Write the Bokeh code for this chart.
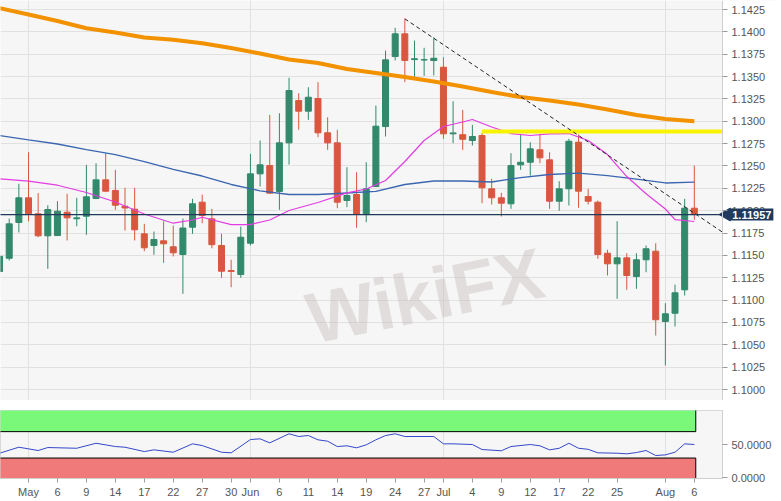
import math
import pandas as pd
from bokeh.plotting import figure
from bokeh.models import (ColumnDataSource, FixedTicker, NumeralTickFormatter,
                          Range1d, Label, LinearAxis, BoxAnnotation)
from bokeh.layouts import column
from bokeh.embed import file_html
from bokeh.resources import INLINE

# ---------------- data ----------------
dates = [d.strftime("%Y-%m-%d") for d in pd.bdate_range("2019-04-26", "2019-08-06")]

opens = [1.1132, 1.11468, 1.11868, 1.12144, 1.11965, 1.11719, 1.11722, 1.11983, 1.1191, 1.11938,
         1.12136, 1.12345, 1.12226, 1.1205, 1.12017, 1.11741, 1.11611, 1.11663, 1.11596, 1.1151,
         1.11815, 1.12095, 1.11909, 1.11611, 1.1133, 1.11286, 1.11636, 1.12412, 1.12505, 1.12215,
         1.12759, 1.13232, 1.13113, 1.13255, 1.12871, 1.12759, 1.12114, 1.12181, 1.11957, 1.1227,
         1.12941, 1.13724, 1.13978, 1.1369, 1.13685, 1.1368, 1.13605, 1.1286, 1.1285, 1.12785,
         1.12841, 1.12245, 1.12144, 1.12077, 1.12513, 1.12542, 1.12681, 1.12569, 1.12106, 1.12245,
         1.12766, 1.12159, 1.12095, 1.11524, 1.11406, 1.11473, 1.11264, 1.11451, 1.11547, 1.10761,
         1.10853, 1.11115, 1.12028]
highs = [1.1155, 1.11912, 1.12301, 1.12654, 1.12196, 1.12061, 1.12106, 1.12189, 1.12144, 1.12513,
         1.12531, 1.12643, 1.12457, 1.12256, 1.12256, 1.11853, 1.11767, 1.11882, 1.11834, 1.11912,
         1.12133, 1.12178, 1.12021, 1.11741, 1.11451, 1.11823, 1.12636, 1.12785, 1.13072, 1.1309,
         1.13486, 1.13314, 1.13381, 1.13437, 1.13045, 1.12905, 1.12486, 1.1243, 1.12542, 1.13176,
         1.13791, 1.14045, 1.14146, 1.13903, 1.13822, 1.1394, 1.13717, 1.13224, 1.13128, 1.1296,
         1.12867, 1.12357, 1.122, 1.12643, 1.1286, 1.12766, 1.1286, 1.12654, 1.1233, 1.12804,
         1.12852, 1.12245, 1.12114, 1.11563, 1.11882, 1.11524, 1.11524, 1.11611, 1.11636, 1.10965,
         1.11174, 1.12133, 1.12505]
lows = [1.1125, 1.11443, 1.11756, 1.11882, 1.11703, 1.1135, 1.1172, 1.11667, 1.11826, 1.1173,
        1.1213, 1.12207, 1.1201, 1.11778, 1.11667, 1.11547, 1.11507, 1.11417, 1.11488, 1.1107,
        1.11741, 1.1186, 1.1158, 1.11249, 1.11144, 1.11249, 1.11611, 1.1227, 1.1219, 1.1201,
        1.12516, 1.12905, 1.13016, 1.12822, 1.12681, 1.12028, 1.12039, 1.11809, 1.11871, 1.1227,
        1.1283, 1.1368, 1.13437, 1.13475, 1.13508, 1.13512, 1.12804, 1.12755, 1.12681, 1.12729,
        1.12084, 1.12069, 1.11935, 1.12021, 1.12457, 1.12393, 1.12531, 1.12021, 1.11999, 1.12058,
        1.12032, 1.12069, 1.11462, 1.11275, 1.11014, 1.11115, 1.11126, 1.11312, 1.10604, 1.10269,
        1.10705, 1.11051, 1.11898]
closes = [1.1149, 1.11853, 1.12144, 1.11965, 1.11719, 1.12013, 1.11994, 1.1192, 1.1192, 1.12155,
          1.12345, 1.12218, 1.12061, 1.1203, 1.11786, 1.11585, 1.11678, 1.1163, 1.11529, 1.11806,
          1.12077, 1.11946, 1.1162, 1.11323, 1.1132, 1.11703, 1.12412, 1.12513, 1.12196, 1.12759,
          1.13344, 1.13113, 1.13269, 1.12871, 1.12759, 1.12095, 1.1217, 1.11957, 1.12245, 1.12945,
          1.13687, 1.13978, 1.1368, 1.137, 1.1369, 1.13705, 1.1286, 1.1287, 1.12799, 1.1283,
          1.12256, 1.12144, 1.12084, 1.12505, 1.12542, 1.12692, 1.12591, 1.12106, 1.12245, 1.12777,
          1.12218, 1.12106, 1.1151, 1.11406, 1.11473, 1.11275, 1.11451, 1.11574, 1.1078, 1.10847,
          1.11082, 1.12028, 1.11957]

# moving averages (read at sampled candles)
ma_long_idx = [0, 3, 6, 9, 12, 15, 18, 21, 24, 27, 30, 33, 36, 39, 42, 45, 48, 51, 54, 57, 60, 63, 66, 69, 72]
ma_long = [1.14265, 1.14194, 1.14121, 1.14041, 1.13993, 1.13937, 1.13913, 1.13873, 1.13819, 1.13758,
           1.13691, 1.13652, 1.13585, 1.1354, 1.13495, 1.13445, 1.13389, 1.13327, 1.13271, 1.13232,
           1.13188, 1.13132, 1.1307, 1.13025, 1.13001]
ma_mid = [1.12841, 1.12793, 1.12746, 1.12684, 1.12628, 1.1255, 1.12461, 1.12388, 1.12293, 1.12222,
          1.12181, 1.12181, 1.12198, 1.12215, 1.12293, 1.12332, 1.12332, 1.12321, 1.12371, 1.12405,
          1.12421, 1.12393, 1.12354, 1.1231, 1.12319]
ma_short_idx = [0, 3, 6, 9, 12, 15, 18, 20, 21, 24, 26, 28, 30, 33, 36, 38, 40, 42, 44, 46, 48, 49,
                51, 53, 55, 57, 59, 61, 63, 65, 67, 69, 70, 72]
ma_short = [1.12357, 1.1233, 1.12285, 1.12203, 1.12097, 1.11963, 1.1186, 1.11896, 1.11927, 1.11845,
            1.11845, 1.11896, 1.12002, 1.12092, 1.122, 1.12243, 1.12338, 1.1255, 1.12785, 1.12942,
            1.12992, 1.1302, 1.12936, 1.12863, 1.12841, 1.1286, 1.12863, 1.12785, 1.12628, 1.12382,
            1.12189, 1.12019, 1.11901, 1.11879]

last_price = 1.11957
resistance_level = 1.12886
resistance_from = "2019-07-05"
trend_x = [42, 74.92]
trend_y = [1.14146, 1.1176]

# oscillator
osc_idx = [0, 2, 4, 5, 8, 10, 12, 13, 15, 16, 18, 20, 21, 23, 24, 26, 27, 28, 30, 31, 32, 33, 34, 35,
           36, 37, 38, 39, 40, 41, 42, 45, 46, 47, 49, 50, 52, 53, 55, 56, 57, 58, 59, 60, 61, 62, 64,
           65, 66, 67, 68, 69, 70, 71, 72]
osc = [37.3, 46.4, 41.4, 45.9, 44.8, 52.4, 47.4, 46.4, 39.8, 42.4, 38.8, 51.5, 48.9, 38.8, 37.9, 58.0,
       59.1, 53.0, 66.7, 62.6, 64.1, 57.6, 55.5, 47.4, 48.5, 45.5, 50.0, 57.6, 64.1, 66.7, 62.6, 62.6,
       51.5, 51.5, 50.5, 42.9, 41.0, 47.4, 50.5, 48.5, 42.4, 44.8, 52.4, 44.8, 43.2, 37.9, 37.3, 36.4,
       38.3, 41.4, 33.8, 34.8, 38.8, 51.5, 50.5]
overbought = 70
oversold = 30

price_ticks = [1.1000, 1.1025, 1.1050, 1.1075, 1.1100, 1.1125, 1.1150, 1.1175, 1.1200, 1.1225,
               1.1250, 1.1275, 1.1300, 1.1325, 1.1350, 1.1375, 1.1400, 1.1425]
osc_ticks = [0, 50]
tick_dates = ["2019-05-01", "2019-05-06", "2019-05-09", "2019-05-14", "2019-05-17", "2019-05-22",
              "2019-05-27", "2019-05-30", "2019-06-03", "2019-06-06", "2019-06-11", "2019-06-14",
              "2019-06-19", "2019-06-24", "2019-06-27", "2019-07-01", "2019-07-04", "2019-07-09",
              "2019-07-12", "2019-07-17", "2019-07-22", "2019-07-25", "2019-08-01", "2019-08-06"]
tick_labels = ["May", "6", "9", "14", "17", "22", "27", "30", "Jun", "6", "11", "14", "19", "24",
               "27", "Jul", "4", "9", "12", "17", "22", "25", "Aug", "6"]
month_starts = ["2019-05-01", "2019-06-03", "2019-07-01", "2019-08-01"]

# ---------------- styling ----------------
GREEN = "#32896b"
RED = "#d9573f"
NAVY = "#1f3a5c"
FONT = "Liberation Sans"
GRID = "#e1e1e1"
BG = "#f6f6f6"

X0, X_EDGE = 0.098, 74.92          # visible index span of the plot area / price-scale position
PX_PER_IDX = 722 / (X_EDGE - X0)
X_END = X0 + 777 / PX_PER_IDX       # right edge of the canvas that also holds the price scale

idx = list(range(len(dates)))
tick_idx = [dates.index(d) for d in tick_dates]
month_idx = [dates.index(d) for d in month_starts]

src = ColumnDataSource(dict(
    x=idx, o=opens, h=highs, l=lows, c=closes,
    top=[max(a, b) for a, b in zip(opens, closes)],
    bottom=[min(a, b) for a, b in zip(opens, closes)],
    color=[GREEN if c >= o else RED for o, c in zip(opens, closes)],
))

p1 = figure(frame_width=777, frame_height=400, x_range=Range1d(X0, X_END),
            y_range=Range1d(1.09877, 1.14351), output_backend="svg",
            toolbar_location=None, x_axis_location=None, y_axis_location=None,
            min_border_left=0, min_border_right=0, min_border_top=0, min_border_bottom=0,
            background_fill_color=BG, border_fill_color="white", outline_line_color=None)

p1.ygrid.ticker = FixedTicker(ticks=price_ticks)
p1.xgrid.ticker = FixedTicker(ticks=month_idx)
for g in (p1.xgrid, p1.ygrid):
    g.grid_line_color = GRID

# white strip holding the price scale, thin bottom border of the price pane
p1.add_layout(BoxAnnotation(left=X_EDGE, fill_color="white", fill_alpha=1.0,
                            line_color=None, level="underlay"))
p1.add_layout(BoxAnnotation(right=X_EDGE, top=1.09880, fill_color="#d8d8d8", fill_alpha=1.0,
                            line_color=None, level="underlay"))

yax = LinearAxis(fixed_location=X_EDGE, ticker=FixedTicker(ticks=price_ticks),
                 formatter=NumeralTickFormatter(format="0.0000"))
yax.axis_line_color = "#cfcfcf"
yax.major_tick_line_color = "#9a9a9a"
yax.major_tick_out = 5
yax.major_tick_in = 0
yax.minor_tick_line_color = None
yax.major_label_text_font = FONT
yax.major_label_text_font_size = "11px"
yax.major_label_text_color = "#555555"
yax.major_label_standoff = 4
p1.add_layout(yax, "right")

# watermark
p1.add_layout(Label(x=44.1, y=1.1105, text="WikiFX", angle=0.2, text_align="center",
                    text_baseline="middle", text_font=FONT, text_font_size="72px",
                    text_font_style="bold", text_color="#c4b8b8", text_alpha=0.4,
                    level="underlay"))

p1.segment(x0="x", y0="l", x1="x", y1="h", color="color", line_width=1, source=src)
p1.vbar(x="x", width=0.62, top="top", bottom="bottom", fill_color="color",
        line_color="color", line_width=1, source=src)

p1.line(ma_long_idx, ma_long, line_width=4, color="#f39200")
p1.line(ma_long_idx, ma_mid, line_width=1.3, color="#3b66b0")
p1.line(ma_short_idx, ma_short, line_width=1.2, color="#e23ce2")

res_start = dates.index(resistance_from)
p1.line([res_start, X_EDGE], [resistance_level, resistance_level], line_width=4, color="#f8f400")
p1.line(trend_x, trend_y, line_width=1, color="#222222", line_dash="4 3")

# last price line + tag on the scale
p1.line([X0 - 1, X_EDGE], [last_price, last_price], line_color=NAVY, line_width=1.2)
p1.scatter([X_EDGE + 0.42], [last_price], marker="triangle", angle=math.pi / 2,
           size=13, fill_color=NAVY, line_color=NAVY)
p1.add_layout(Label(x=75.72, y=last_price, text=f"{last_price:.5f}",
                    text_align="left", text_baseline="middle", text_font=FONT,
                    text_font_size="11px", text_font_style="bold", text_color="white",
                    background_fill_color=NAVY, padding=2))

# ---------------- oscillator panel ----------------
p2 = figure(frame_width=722, frame_height=68, x_range=Range1d(X0, X_EDGE),
            y_range=Range1d(-1.0, 102.0),
            output_backend="svg", toolbar_location=None, y_axis_location="right",
            min_border_left=0, min_border_right=51, min_border_top=10, min_border_bottom=0,
            background_fill_color=BG, border_fill_color="white",
            outline_line_color="#d8d8d8")

band_right = idx[-1] + 0.15
p2.quad(left=-5, right=band_right, bottom=overbought, top=110, fill_color="#7af87a",
        line_color="black", line_width=1)
p2.quad(left=-5, right=band_right, bottom=-10, top=oversold, fill_color="#f07a7a",
        line_color="black", line_width=1)
p2.line(osc_idx, osc, line_width=1, color="#3447c8")

p2.yaxis.ticker = FixedTicker(ticks=osc_ticks)
p2.yaxis.formatter = NumeralTickFormatter(format="0.0000")
p2.ygrid.grid_line_color = None
p2.xgrid.ticker = FixedTicker(ticks=month_idx)
p2.xgrid.grid_line_color = GRID
p2.xaxis.ticker = FixedTicker(ticks=tick_idx)
p2.xaxis.major_label_overrides = {i: t for i, t in zip(tick_idx, tick_labels)}
for ax in (p2.xaxis, p2.yaxis):
    ax.axis_line_color = "#cfcfcf"
    ax.major_tick_line_color = "#9a9a9a"
    ax.major_tick_in = 0
    ax.minor_tick_line_color = None
    ax.major_label_text_font = FONT
    ax.major_label_text_font_size = "11px"
    ax.major_label_text_color = "#555555"
p2.yaxis.major_tick_out = 5
p2.yaxis.major_label_standoff = 4
p2.xaxis.major_tick_out = 4
p2.xaxis.major_label_standoff = 3

layout = column(p1, p2, spacing=0)
open("out.html", "w").write(file_html(layout, INLINE, "EUR/USD"))
